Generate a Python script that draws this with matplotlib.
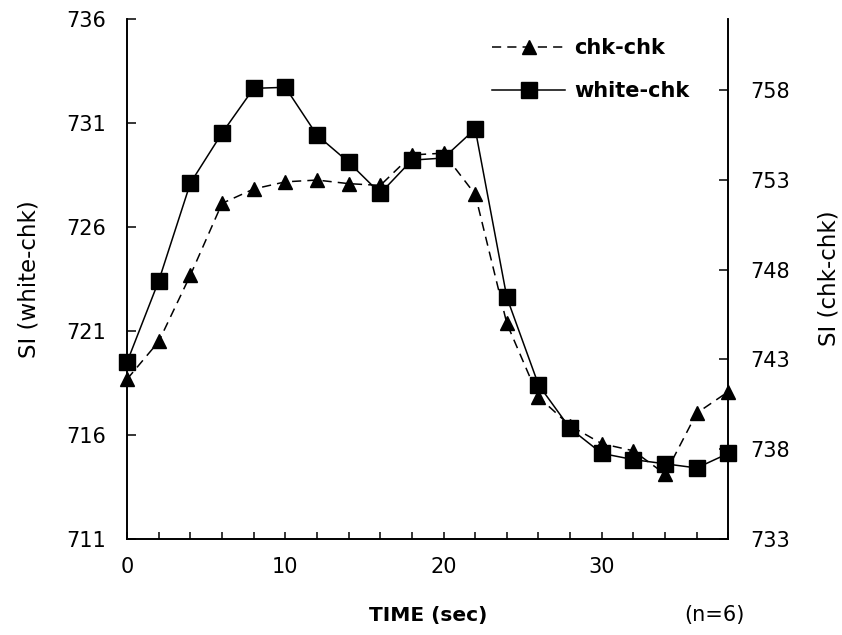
import matplotlib
matplotlib.use("Agg")
import matplotlib.pyplot as plt

plt.rcParams['font.family'] = ['DejaVu Sans']

time = [0, 2, 4, 6, 8, 10, 12, 14, 16, 18, 20, 22, 24, 26, 28, 30, 32, 34, 36, 38]
white_chk = [719.5, 723.4, 728.1, 730.5, 732.65, 732.7, 730.4, 729.1, 727.6, 729.2,
             729.3, 730.7, 722.6, 718.4, 716.3, 715.1, 714.8, 714.6, 714.4, 715.1]
chk_chk = [741.9, 744.0, 747.7, 751.7, 752.5, 752.9, 753.0, 752.8, 752.7, 754.4,
           754.5, 752.2, 745.0, 740.9, 739.3, 738.3, 737.9, 736.6, 740.0, 741.2]
left_ticks = [711, 716, 721, 726, 731, 736]
right_ticks = [733, 738, 743, 748, 753, 758]
x_ticklabels = [0, 10, 20, 30]

fig = plt.figure(figsize=(8.42, 6.35), dpi=100)
ax = fig.add_axes([0.151, 0.1517, 0.714, 0.8189])
ax2 = ax.twinx()

l2, = ax.plot(time, white_chk, color='black', lw=1.1, marker='s', markersize=11,
              label='white-chk', clip_on=False, zorder=3)
l1, = ax2.plot(time, chk_chk, color='black', lw=1.1, ls=(0, (6, 4)), marker='^',
               markersize=10, label='chk-chk', clip_on=False, zorder=3)

ax.set_xlim(0, 38)
ax.set_ylim(711, 736)
ax2.set_ylim(733, 762)

ax.set_xticks(time)
ax.set_xticklabels([str(t) if t in x_ticklabels else '' for t in time])
ax.set_yticks(left_ticks)
ax2.set_yticks(right_ticks)

for a in (ax, ax2):
    for s in a.spines.values():
        s.set_linewidth(1.2)
    a.spines['top'].set_visible(False)
ax.tick_params(axis='x', direction='in', length=5, width=1.1, labelsize=15, pad=13)
ax.tick_params(axis='y', direction='in', length=6.5, width=1.1, labelsize=15, pad=15)
ax2.tick_params(axis='y', direction='in', length=6.5, width=1.1, labelsize=15, pad=16)

ax.set_ylabel('SI (white-chk)', fontsize=16.5, va='center', ha='center')
ax.yaxis.set_label_coords(-0.163, 0.5)
ax2.set_ylabel('SI (chk-chk)', fontsize=16.5, va='center', ha='center', rotation=90)
ax2.yaxis.set_label_coords(1.168, 0.5)
ax.set_xlabel('TIME (sec)', fontsize=14.5, fontweight='bold', va='center')
ax.xaxis.set_label_coords(0.5, -0.147)
fig.text(714 / 842, 1 - 615 / 635, '(n=6)', fontsize=15, ha='center', va='center')

ax.legend(handles=[l1, l2], loc='upper left', bbox_to_anchor=(0.607, 0.963),
          frameon=False, prop={'size': 15, 'weight': 'bold'}, handlelength=3.5,
          labelspacing=1.13, handletextpad=0.45, borderpad=0, borderaxespad=0)

fig.savefig('out.png', dpi=100)
